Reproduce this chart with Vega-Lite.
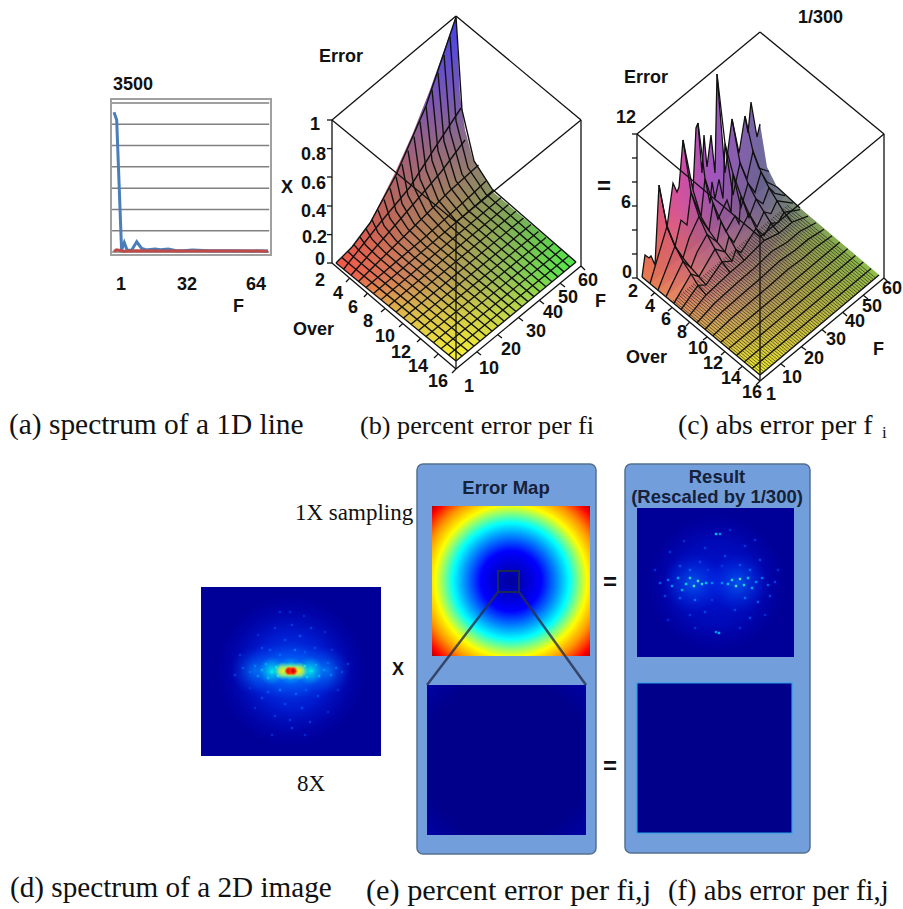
{"$schema":"https://vega.github.io/schema/vega-lite/v6.json","width":903,"height":909,"padding":0,"autosize":{"type":"fit","contains":"padding"},"background":"white","config":{"view":{"stroke":null}},
"datasets":{
"surfB":[{"x":336,"y":263,"y2":263},{"x":352,"y":247,"y2":276},{"x":370,"y":223,"y2":291},{"x":395,"y":173,"y2":311},{"x":413,"y":133,"y2":326},{"x":430,"y":90,"y2":340},{"x":456,"y":17,"y2":361},{"x":460,"y":97,"y2":358},{"x":465,"y":130,"y2":354},{"x":473,"y":160,"y2":347},{"x":493,"y":192,"y2":330.5},{"x":576,"y":262,"y2":262}],
"surfC":[{"x":642,"y":277,"y2":277},{"x":645,"y":255,"y2":279.5},{"x":649,"y":258,"y2":283},{"x":651,"y":256,"y2":284.5},{"x":655,"y":265,"y2":288},{"x":659,"y":185,"y2":291},{"x":667,"y":227,"y2":298},{"x":673,"y":183,"y2":303},{"x":677,"y":192,"y2":306},{"x":679,"y":187,"y2":308},{"x":683,"y":140,"y2":311},{"x":693,"y":190,"y2":319},{"x":696,"y":128,"y2":322},{"x":698,"y":123,"y2":323.5},{"x":702,"y":173,"y2":327},{"x":704,"y":135,"y2":328.5},{"x":707,"y":167,"y2":331},{"x":711,"y":135,"y2":334},{"x":715,"y":173,"y2":338},{"x":717,"y":74,"y2":339},{"x":725,"y":173,"y2":346},{"x":732,"y":119,"y2":352},{"x":739,"y":153,"y2":357.5},{"x":745,"y":116,"y2":362.5},{"x":748,"y":133,"y2":365},{"x":751,"y":102,"y2":367.5},{"x":757,"y":137,"y2":372.5},{"x":760,"y":124,"y2":375},{"x":767,"y":167,"y2":369},{"x":777,"y":187,"y2":361},{"x":800,"y":208,"y2":341},{"x":879,"y":275,"y2":275}],
"meshB":[
{"l":1,"x":462,"y":356},{"l":1,"x":378,"y":287.4},{"l":1,"x":360,"y":272.7},{"l":1,"x":348,"y":262.7},{"l":1,"x":342,"y":257.6},
{"l":2,"x":468,"y":351},{"l":2,"x":384,"y":282.4},{"l":2,"x":366,"y":267.5},{"l":2,"x":354,"y":257.3},{"l":2,"x":348,"y":251.5},
{"l":3,"x":474,"y":346},{"l":3,"x":390,"y":277.3},{"l":3,"x":372,"y":262.3},{"l":3,"x":360,"y":251.6},{"l":3,"x":354,"y":244.7},
{"l":4,"x":480,"y":341},{"l":4,"x":396,"y":272.2},{"l":4,"x":378,"y":257},{"l":4,"x":366,"y":245.5},{"l":4,"x":360,"y":237.1},
{"l":5,"x":486,"y":336},{"l":5,"x":402,"y":267.1},{"l":5,"x":384,"y":251.6},{"l":5,"x":372,"y":239.2},{"l":5,"x":366,"y":228.8},
{"l":6,"x":492,"y":331},{"l":6,"x":408,"y":262},{"l":6,"x":390,"y":246.1},{"l":6,"x":378,"y":232.6},{"l":6,"x":372,"y":219.8},
{"l":7,"x":498,"y":326},{"l":7,"x":414,"y":256.9},{"l":7,"x":396,"y":240.5},{"l":7,"x":384,"y":225.7},{"l":7,"x":378,"y":210},
{"l":8,"x":504,"y":321},{"l":8,"x":420,"y":251.7},{"l":8,"x":402,"y":234.9},{"l":8,"x":390,"y":218.5},{"l":8,"x":384,"y":199.5},
{"l":9,"x":510,"y":316},{"l":9,"x":426,"y":246.5},{"l":9,"x":408,"y":229.1},{"l":9,"x":396,"y":211},{"l":9,"x":390,"y":188.2},
{"l":10,"x":516,"y":311.5},{"l":10,"x":432,"y":241.8},{"l":10,"x":414,"y":223.8},{"l":10,"x":402,"y":203.7},{"l":10,"x":396,"y":176.7},
{"l":11,"x":522,"y":306.5},{"l":11,"x":438,"y":236.6},{"l":11,"x":420,"y":217.9},{"l":11,"x":408,"y":195.6},{"l":11,"x":402,"y":164},
{"l":12,"x":528,"y":301.6},{"l":12,"x":444,"y":231.4},{"l":12,"x":426,"y":212},{"l":12,"x":414,"y":187.3},{"l":12,"x":408,"y":150.7},
{"l":13,"x":534,"y":296.6},{"l":13,"x":450,"y":226.1},{"l":13,"x":432,"y":206},{"l":13,"x":420,"y":178.7},{"l":13,"x":414,"y":136.5},
{"l":14,"x":540,"y":291.7},{"l":14,"x":456,"y":220.9},{"l":14,"x":438,"y":199.8},{"l":14,"x":426,"y":169.8},{"l":14,"x":420,"y":121.7},
{"l":15,"x":546,"y":286.8},{"l":15,"x":462,"y":215.7},{"l":15,"x":444,"y":193.6},{"l":15,"x":432,"y":160.6},{"l":15,"x":426,"y":106.1},
{"l":16,"x":552,"y":281.8},{"l":16,"x":468,"y":210.4},{"l":16,"x":450,"y":187.2},{"l":16,"x":438,"y":150.9},{"l":16,"x":432,"y":89.7},
{"l":17,"x":558,"y":276.9},{"l":17,"x":474,"y":205.1},{"l":17,"x":456,"y":180.9},{"l":17,"x":444,"y":141.3},{"l":17,"x":438,"y":72.7},
{"l":18,"x":564,"y":271.9},{"l":18,"x":480,"y":199.7},{"l":18,"x":462,"y":174.3},{"l":18,"x":450,"y":131.2},{"l":18,"x":444,"y":54.9},
{"l":19,"x":570,"y":267},{"l":19,"x":486,"y":194.4},{"l":19,"x":468,"y":167.8},{"l":19,"x":456,"y":120.8},{"l":19,"x":450,"y":36.3},
{"l":20,"x":576,"y":262},{"l":20,"x":492,"y":189},{"l":20,"x":474,"y":161},{"l":20,"x":462,"y":110},{"l":20,"x":456,"y":17},
{"l":21,"x":366,"y":287.5},{"l":21,"x":426,"y":236.2},{"l":21,"x":456,"y":209},{"l":21,"x":474,"y":192.5},{"l":21,"x":486,"y":181.1},
{"l":22,"x":358.5,"y":281.4},{"l":22,"x":418.5,"y":222},{"l":22,"x":448.5,"y":192},{"l":22,"x":478.5,"y":165},
{"l":23,"x":351,"y":275.3},{"l":23,"x":397,"y":223},{"l":23,"x":441,"y":172},{"l":23,"x":465,"y":140},
{"l":24,"x":343.5,"y":269.2},{"l":24,"x":380,"y":223},{"l":24,"x":410,"y":187},{"l":24,"x":433.5,"y":150},{"l":24,"x":461,"y":108},
{"l":25,"x":336,"y":263},{"l":25,"x":352,"y":247},{"l":25,"x":370,"y":223},{"l":25,"x":396,"y":175},{"l":25,"x":426,"y":106},{"l":25,"x":456,"y":17}],
"ridgeC":[
{"l":1,"x":650,"y":283.5,"y2":283.5},{"l":1,"x":667,"y":226.3,"y2":269.2},{"l":1,"x":675,"y":246.5,"y2":262.5},{"l":1,"x":681,"y":220.1,"y2":257.5},{"l":1,"x":687,"y":224.9,"y2":252.4},{"l":1,"x":691,"y":192.4,"y2":249.1},{"l":1,"x":701,"y":216.5,"y2":240.7},{"l":1,"x":705,"y":178.4,"y2":237.3},{"l":1,"x":710,"y":203.4,"y2":233.1},{"l":1,"x":712,"y":181.9,"y2":231.4},{"l":1,"x":715,"y":198.6,"y2":228.9},{"l":1,"x":719,"y":179.3,"y2":225.5},{"l":1,"x":723,"y":198.5,"y2":222.2},{"l":1,"x":725,"y":143.5,"y2":220.5},{"l":1,"x":733,"y":195.1,"y2":213.8},{"l":1,"x":740,"y":162.8,"y2":207.9},{"l":1,"x":747,"y":178.9,"y2":202},{"l":1,"x":753,"y":151.3,"y2":197},{"l":1,"x":759,"y":168.2,"y2":191.9},{"l":1,"x":769,"y":171.5,"y2":183.5},
{"l":2,"x":658,"y":290,"y2":290},{"l":2,"x":675,"y":246.1,"y2":275.7},{"l":2,"x":683,"y":258,"y2":269},{"l":2,"x":689,"y":238.2,"y2":264},{"l":2,"x":699,"y":216.5,"y2":255.6},{"l":2,"x":709,"y":230.5,"y2":247.2},{"l":2,"x":713,"y":203.1,"y2":243.8},{"l":2,"x":718,"y":219.1,"y2":239.6},{"l":2,"x":727,"y":200.1,"y2":232},{"l":2,"x":731,"y":212.4,"y2":228.7},{"l":2,"x":733,"y":173.8,"y2":227},{"l":2,"x":741,"y":207.4,"y2":220.3},{"l":2,"x":748,"y":183.2,"y2":214.4},{"l":2,"x":755,"y":192.5,"y2":208.5},{"l":2,"x":761,"y":172,"y2":203.5},{"l":2,"x":767,"y":182.1,"y2":198.4},{"l":2,"x":777,"y":187,"y2":190},
{"l":3,"x":666,"y":296.6,"y2":296.6},{"l":3,"x":683,"y":261.3,"y2":282.3},{"l":3,"x":691,"y":267.8,"y2":275.6},{"l":3,"x":697,"y":252.2,"y2":270.6},{"l":3,"x":707,"y":234.4,"y2":262.2},{"l":3,"x":717,"y":241.9,"y2":253.8},{"l":3,"x":721,"y":221.5,"y2":250.4},{"l":3,"x":726,"y":231.6,"y2":246.2},{"l":3,"x":735,"y":215.9,"y2":238.6},{"l":3,"x":739,"y":223.7,"y2":235.3},{"l":3,"x":741,"y":195.8,"y2":233.6},{"l":3,"x":749,"y":217.7,"y2":226.9},{"l":3,"x":756,"y":198.9,"y2":221},{"l":3,"x":763,"y":203.8,"y2":215.1},{"l":3,"x":769,"y":187.7,"y2":210.1},{"l":3,"x":775,"y":193.4,"y2":205},{"l":3,"x":785,"y":195.6,"y2":196.6},
{"l":4,"x":674,"y":303.1,"y2":303.1},{"l":4,"x":691,"y":274,"y2":288.8},{"l":4,"x":699,"y":276.6,"y2":282.1},{"l":4,"x":715,"y":249.1,"y2":268.7},{"l":4,"x":725,"y":251.9,"y2":260.3},{"l":4,"x":729,"y":236.6,"y2":256.9},{"l":4,"x":734,"y":242.4,"y2":252.7},{"l":4,"x":749,"y":213.5,"y2":240.1},{"l":4,"x":757,"y":226.9,"y2":233.4},{"l":4,"x":764,"y":211.9,"y2":227.5},{"l":4,"x":771,"y":213.6,"y2":221.6},{"l":4,"x":777,"y":200.8,"y2":216.6},{"l":4,"x":793,"y":203.1,"y2":203.1},
{"l":5,"x":681,"y":309.7,"y2":309.7},{"l":5,"x":698,"y":285.3,"y2":295.4},{"l":5,"x":706,"y":284.9,"y2":288.7},{"l":5,"x":722,"y":261.9,"y2":275.3},{"l":5,"x":732,"y":261.2,"y2":266.9},{"l":5,"x":736,"y":249.6,"y2":263.5},{"l":5,"x":741,"y":252.3,"y2":259.3},{"l":5,"x":756,"y":228.5,"y2":246.7},{"l":5,"x":764,"y":235.6,"y2":240},{"l":5,"x":771,"y":223.4,"y2":234.1},{"l":5,"x":778,"y":222.7,"y2":228.2},{"l":5,"x":784,"y":212.4,"y2":223.2},{"l":5,"x":800,"y":209.7,"y2":209.7},
{"l":6,"x":689,"y":316.2,"y2":316.2},{"l":6,"x":706,"y":294.9,"y2":301.9},{"l":6,"x":730,"y":272.5,"y2":281.8},{"l":6,"x":744,"y":260.4,"y2":270},{"l":6,"x":764,"y":240.6,"y2":253.2},{"l":6,"x":779,"y":233.2,"y2":240.6},{"l":6,"x":792,"y":222.2,"y2":229.7},{"l":6,"x":808,"y":216.2,"y2":216.2},
{"l":7,"x":697,"y":322.7,"y2":322.7},{"l":7,"x":714,"y":303.7,"y2":308.4},{"l":7,"x":738,"y":282.1,"y2":288.3},{"l":7,"x":752,"y":270.1,"y2":276.5},{"l":7,"x":772,"y":251.3,"y2":259.7},{"l":7,"x":787,"y":242.2,"y2":247.1},{"l":7,"x":800,"y":231.2,"y2":236.2},{"l":7,"x":816,"y":222.7,"y2":222.7},
{"l":8,"x":705,"y":329.2,"y2":329.2},{"l":8,"x":722,"y":311.8,"y2":314.9},{"l":8,"x":746,"y":290.7,"y2":294.8},{"l":8,"x":760,"y":278.7,"y2":283},{"l":8,"x":780,"y":260.6,"y2":266.2},{"l":8,"x":795,"y":250.3,"y2":253.6},{"l":8,"x":808,"y":239.4,"y2":242.7},{"l":8,"x":824,"y":229.2,"y2":229.2},
{"l":9,"x":713,"y":335.8,"y2":335.8},{"l":9,"x":730,"y":319.5,"y2":321.5},{"l":9,"x":754,"y":298.8,"y2":301.4},{"l":9,"x":768,"y":286.9,"y2":289.6},{"l":9,"x":788,"y":269.3,"y2":272.8},{"l":9,"x":803,"y":258.2,"y2":260.2},{"l":9,"x":816,"y":247.3,"y2":249.3},{"l":9,"x":832,"y":235.8,"y2":235.8}],
"edgeC":[
{"l":0,"x":642,"y":277},{"l":0,"x":645,"y":255},{"l":0,"x":649,"y":258},{"l":0,"x":651,"y":256},{"l":0,"x":655,"y":265},{"l":0,"x":659,"y":185},{"l":0,"x":667,"y":227},{"l":0,"x":673,"y":183},{"l":0,"x":677,"y":192},{"l":0,"x":679,"y":187},{"l":0,"x":683,"y":140},{"l":0,"x":693,"y":190},{"l":0,"x":696,"y":128},{"l":0,"x":698,"y":123},{"l":0,"x":702,"y":173},{"l":0,"x":704,"y":135},{"l":0,"x":707,"y":167},{"l":0,"x":711,"y":135},{"l":0,"x":715,"y":173},{"l":0,"x":717,"y":74},{"l":0,"x":725,"y":173},{"l":0,"x":732,"y":119},{"l":0,"x":739,"y":153},{"l":0,"x":745,"y":116},{"l":0,"x":748,"y":133},{"l":0,"x":751,"y":102},{"l":0,"x":757,"y":137},{"l":0,"x":760,"y":124},
{"l":101,"x":659,"y":185},{"l":101,"x":667,"y":226.3},{"l":101,"x":675,"y":246.1},{"l":101,"x":683,"y":261.3},{"l":101,"x":691,"y":274},{"l":101,"x":698,"y":285.3},{"l":101,"x":706,"y":294.9},
{"l":102,"x":683,"y":140},{"l":102,"x":691,"y":192.4},{"l":102,"x":699,"y":216.5},{"l":102,"x":707,"y":234.4},{"l":102,"x":715,"y":249.1},{"l":102,"x":722,"y":261.9},{"l":102,"x":730,"y":272.5},
{"l":103,"x":698,"y":123},{"l":103,"x":705,"y":178.4},{"l":103,"x":713,"y":203.1},{"l":103,"x":721,"y":221.5},{"l":103,"x":729,"y":236.6},{"l":103,"x":736,"y":249.6},{"l":103,"x":744,"y":260.4},
{"l":104,"x":717,"y":74},{"l":104,"x":725,"y":143.5},{"l":104,"x":733,"y":173.8},{"l":104,"x":741,"y":195.8},{"l":104,"x":749,"y":213.5},{"l":104,"x":756,"y":228.5},{"l":104,"x":764,"y":240.6},
{"l":105,"x":732,"y":119},{"l":105,"x":740,"y":162.8},{"l":105,"x":748,"y":183.2},{"l":105,"x":756,"y":198.9},{"l":105,"x":764,"y":211.9},{"l":105,"x":771,"y":223.4},{"l":105,"x":779,"y":233.2},
{"l":106,"x":745,"y":116},{"l":106,"x":753,"y":151.3},{"l":106,"x":761,"y":172},{"l":106,"x":769,"y":187.7},{"l":106,"x":777,"y":200.8},{"l":106,"x":784,"y":212.4},{"l":106,"x":792,"y":222.2},
{"l":107,"x":667,"y":227},{"l":107,"x":675,"y":246.5},{"l":107,"x":683,"y":258},{"l":107,"x":691,"y":267.8},{"l":107,"x":699,"y":276.6},{"l":107,"x":706,"y":284.9},
{"l":108,"x":693,"y":190},{"l":108,"x":701,"y":216.5},{"l":108,"x":709,"y":230.5},{"l":108,"x":717,"y":241.9},{"l":108,"x":725,"y":251.9},{"l":108,"x":732,"y":261.2}],
"rules":[
{"x":448.5,"y":354.9,"x2":568.5,"y2":255.9},{"x":441,"y":348.8,"x2":561,"y2":249.8},{"x":433.5,"y":342.6,"x2":553.5,"y2":243.6},{"x":426,"y":336.5,"x2":546,"y2":237.5},{"x":418.5,"y":330.4,"x2":538.5,"y2":231.4},{"x":411,"y":324.3,"x2":531,"y2":224.6},{"x":403.5,"y":318.1,"x2":523.5,"y2":218},{"x":396,"y":312,"x2":516,"y2":211},{"x":388.5,"y":305.9,"x2":508.5,"y2":204.4},{"x":381,"y":299.8,"x2":501,"y2":197.8},{"x":373.5,"y":293.6,"x2":493.5,"y2":190},
{"x":336,"y":263,"x2":456,"y2":361},{"x":456,"y":361,"x2":576,"y2":262},
{"x":720.7,"y":342.3,"x2":839.7,"y2":242.3},{"x":728.6,"y":348.8,"x2":847.6,"y2":248.8},{"x":736.4,"y":355.4,"x2":855.4,"y2":255.4},{"x":744.3,"y":361.9,"x2":863.3,"y2":261.9},{"x":752.1,"y":368.4,"x2":871.1,"y2":268.4},{"x":642,"y":277,"x2":760,"y2":375},{"x":760,"y":375,"x2":879,"y2":275},{"x":777,"y":187,"x2":800,"y2":208},
{"x":456,"y":16,"x2":332,"y2":120},{"x":456,"y":16,"x2":581,"y2":120},{"x":332,"y":120,"x2":456,"y2":222},{"x":581,"y":120,"x2":456,"y2":222},{"x":456,"y":222,"x2":456,"y2":369},{"x":332,"y":120,"x2":332,"y2":263},{"x":581,"y":120,"x2":581,"y2":266},{"x":332,"y":263,"x2":456,"y2":369},{"x":581,"y":266,"x2":456,"y2":369},
{"x":760,"y":32,"x2":637,"y2":134},{"x":760,"y":32,"x2":884,"y2":134},{"x":637,"y":134,"x2":760,"y2":237},{"x":884,"y":134,"x2":760,"y2":237},{"x":760,"y":237,"x2":760,"y2":381},{"x":637,"y":134,"x2":637,"y2":278},{"x":884,"y":134,"x2":884,"y2":278},{"x":637,"y":278,"x2":760,"y2":381},{"x":884,"y":278,"x2":760,"y2":381},
{"x":332,"y":120,"x2":327,"y2":120},{"x":332,"y":148.6,"x2":327,"y2":148.6},{"x":332,"y":177,"x2":327,"y2":177},{"x":332,"y":206,"x2":327,"y2":206},{"x":332,"y":234.6,"x2":327,"y2":234.6},{"x":332,"y":263,"x2":327,"y2":263},
{"x":637,"y":134,"x2":632,"y2":134},{"x":637,"y":158,"x2":632,"y2":158},{"x":637,"y":182,"x2":632,"y2":182},{"x":637,"y":206,"x2":632,"y2":206},{"x":637,"y":230,"x2":632,"y2":230},{"x":637,"y":254,"x2":632,"y2":254},{"x":637,"y":278,"x2":632,"y2":278},
{"x":349.7,"y":278.1,"x2":346,"y2":282},{"x":367.4,"y":293.3,"x2":364,"y2":297},{"x":385.1,"y":308.4,"x2":381,"y2":312},{"x":402.9,"y":323.6,"x2":399,"y2":327},{"x":420.6,"y":338.7,"x2":417,"y2":342},{"x":438.3,"y":353.9,"x2":434,"y2":358},{"x":456,"y":369,"x2":452,"y2":373},
{"x":476.8,"y":351.8,"x2":481,"y2":355},{"x":497.7,"y":334.7,"x2":502,"y2":338},{"x":518.5,"y":317.5,"x2":523,"y2":321},{"x":539.3,"y":300.3,"x2":544,"y2":304},{"x":560.2,"y":283.2,"x2":565,"y2":287},{"x":581,"y":266,"x2":585,"y2":270},
{"x":654.6,"y":292.7,"x2":651,"y2":296},{"x":672.1,"y":307.4,"x2":668,"y2":311},{"x":689.7,"y":322.1,"x2":686,"y2":326},{"x":707.3,"y":336.9,"x2":703,"y2":340},{"x":724.9,"y":351.6,"x2":721,"y2":355},{"x":742.4,"y":366.3,"x2":738,"y2":370},{"x":760,"y":381,"x2":756,"y2":385},
{"x":780.7,"y":363.8,"x2":785,"y2":367},{"x":801.3,"y":346.7,"x2":806,"y2":350},{"x":822,"y":329.5,"x2":826,"y2":333},{"x":842.7,"y":312.3,"x2":847,"y2":316},{"x":863.3,"y":295.2,"x2":868,"y2":299},{"x":884,"y":278,"x2":888,"y2":282}],
"hatch":[{"x":762,"y":373.3,"x2":673,"y2":300.3},{"x":764,"y":371.7,"x2":675,"y2":298.7},{"x":766,"y":370,"x2":677,"y2":297},{"x":768,"y":368.3,"x2":679,"y2":295.3},{"x":770,"y":366.7,"x2":681,"y2":293.7},{"x":772,"y":365,"x2":683,"y2":292},{"x":774,"y":363.3,"x2":685,"y2":290.3},{"x":776,"y":361.7,"x2":687,"y2":288.7},{"x":778,"y":360,"x2":689,"y2":287},{"x":780,"y":358.3,"x2":691,"y2":285.3},{"x":782,"y":356.7,"x2":693,"y2":283.7},{"x":784,"y":355,"x2":695,"y2":282},{"x":786,"y":353.3,"x2":697,"y2":280.3},{"x":788,"y":351.7,"x2":699,"y2":278.7},{"x":790,"y":350,"x2":701,"y2":277},{"x":792,"y":348.3,"x2":703,"y2":275.3},{"x":794,"y":346.7,"x2":705,"y2":273.7},{"x":796,"y":345,"x2":707,"y2":272},{"x":798,"y":343.3,"x2":709,"y2":270.3},{"x":800,"y":341.7,"x2":711,"y2":268.7},{"x":802,"y":340,"x2":713,"y2":267},{"x":804,"y":338.3,"x2":715,"y2":265.3},{"x":806,"y":336.7,"x2":717,"y2":263.7},{"x":808,"y":335,"x2":719,"y2":262},{"x":810,"y":333.3,"x2":721,"y2":260.3},{"x":812,"y":331.7,"x2":723,"y2":258.7},{"x":814,"y":330,"x2":725,"y2":257},{"x":816,"y":328.3,"x2":727,"y2":255.3},{"x":818,"y":326.7,"x2":729,"y2":253.7},{"x":820,"y":325,"x2":731,"y2":252},{"x":822,"y":323.3,"x2":733,"y2":250.3},{"x":824,"y":321.7,"x2":735,"y2":248.7},{"x":826,"y":320,"x2":737,"y2":247},{"x":828,"y":318.3,"x2":739,"y2":245.3},{"x":830,"y":316.7,"x2":741,"y2":243.7},{"x":832,"y":315,"x2":743,"y2":242},{"x":834,"y":313.3,"x2":745,"y2":240.3},{"x":836,"y":311.7,"x2":747,"y2":238.7},{"x":838,"y":310,"x2":749,"y2":237},{"x":840,"y":308.3,"x2":751,"y2":235.3},{"x":842,"y":306.7,"x2":753,"y2":233.7},{"x":844,"y":305,"x2":755,"y2":232},{"x":846,"y":303.3,"x2":757,"y2":230.3},{"x":848,"y":301.7,"x2":759,"y2":228.7},{"x":850,"y":300,"x2":761,"y2":227},{"x":852,"y":298.3,"x2":763,"y2":225.3},{"x":854,"y":296.7,"x2":765,"y2":223.7},{"x":856,"y":295,"x2":767,"y2":222},{"x":858,"y":293.3,"x2":769,"y2":220.3},{"x":860,"y":291.7,"x2":771,"y2":218.7},{"x":862,"y":290,"x2":773,"y2":217},{"x":864,"y":288.3,"x2":775,"y2":215.3},{"x":866,"y":286.7,"x2":777,"y2":213.7},{"x":868,"y":285,"x2":779,"y2":212},{"x":870,"y":283.3,"x2":781,"y2":210.3},{"x":872,"y":281.7,"x2":783,"y2":208.7},{"x":874,"y":280,"x2":785,"y2":207},{"x":876,"y":278.3,"x2":787,"y2":205.3}],
"specks":[{"x":243,"y":668,"v":0.35},{"x":250,"y":672,"v":0.4},{"x":255,"y":666,"v":0.45},{"x":258,"y":676,"v":0.5},{"x":262,"y":670,"v":0.55},{"x":266,"y":664,"v":0.5},{"x":268,"y":678,"v":0.55},{"x":272,"y":672,"v":0.7},{"x":276,"y":667,"v":0.75},{"x":278,"y":676,"v":0.7},{"x":305,"y":666,"v":0.75},{"x":307,"y":677,"v":0.7},{"x":312,"y":671,"v":0.65},{"x":316,"y":665,"v":0.5},{"x":319,"y":676,"v":0.55},{"x":324,"y":670,"v":0.5},{"x":328,"y":663,"v":0.4},{"x":331,"y":675,"v":0.45},{"x":336,"y":668,"v":0.4},{"x":342,"y":672,"v":0.3},{"x":280,"y":655,"v":0.4},{"x":295,"y":650,"v":0.45},{"x":305,"y":652,"v":0.35},{"x":270,"y":650,"v":0.35},{"x":285,"y":640,"v":0.3},{"x":300,"y":636,"v":0.35},{"x":315,"y":648,"v":0.3},{"x":262,"y":648,"v":0.3},{"x":292,"y":625,"v":0.25},{"x":275,"y":628,"v":0.25},{"x":311,"y":628,"v":0.25},{"x":290,"y":612,"v":0.2},{"x":280,"y":690,"v":0.45},{"x":296,"y":694,"v":0.4},{"x":306,"y":690,"v":0.35},{"x":268,"y":692,"v":0.35},{"x":285,"y":704,"v":0.3},{"x":302,"y":708,"v":0.3},{"x":318,"y":696,"v":0.3},{"x":262,"y":698,"v":0.3},{"x":290,"y":720,"v":0.25},{"x":275,"y":716,"v":0.25},{"x":310,"y":722,"v":0.25},{"x":292,"y":728,"v":0.25},
{"x":240,"y":655,"v":0.22},{"x":250,"y":688,"v":0.22},{"x":235,"y":675,"v":0.25},{"x":348,"y":664,"v":0.25},{"x":338,"y":690,"v":0.22},{"x":332,"y":650,"v":0.22},{"x":258,"y":635,"v":0.2},{"x":325,"y":632,"v":0.2},{"x":255,"y":708,"v":0.2},{"x":328,"y":712,"v":0.2},{"x":280,"y":612,"v":0.2},{"x":304,"y":616,"v":0.2},{"x":272,"y":735,"v":0.2},{"x":305,"y":735,"v":0.2},
{"x":660,"y":583,"v":0.4},{"x":668,"y":580,"v":0.45},{"x":672,"y":586,"v":0.55},{"x":678,"y":578,"v":0.6},{"x":682,"y":590,"v":0.6},{"x":686,"y":584,"v":0.75},{"x":690,"y":578,"v":0.8},{"x":694,"y":586,"v":0.85},{"x":698,"y":581,"v":0.85},{"x":702,"y":584,"v":0.8},{"x":706,"y":583,"v":0.7},{"x":712,"y":583,"v":0.5},{"x":722,"y":583,"v":0.5},{"x":728,"y":584,"v":0.7},{"x":732,"y":580,"v":0.8},{"x":736,"y":586,"v":0.85},{"x":740,"y":579,"v":0.85},{"x":744,"y":585,"v":0.8},{"x":748,"y":578,"v":0.7},{"x":752,"y":588,"v":0.6},{"x":756,"y":582,"v":0.5},{"x":762,"y":578,"v":0.45},{"x":768,"y":585,"v":0.4},{"x":775,"y":582,"v":0.3},{"x":716,"y":534,"v":0.7},{"x":720,"y":534,"v":0.55},{"x":680,"y":566,"v":0.35},{"x":690,"y":570,"v":0.4},{"x":700,"y":562,"v":0.3},{"x":740,"y":565,"v":0.35},{"x":750,"y":570,"v":0.4},{"x":760,"y":560,"v":0.3},{"x":670,"y":552,"v":0.25},{"x":725,"y":556,"v":0.3},{"x":705,"y":548,"v":0.25},{"x":745,"y":546,"v":0.25},{"x":716,"y":632,"v":0.55},{"x":719,"y":633,"v":0.65},{"x":680,"y":598,"v":0.4},{"x":695,"y":600,"v":0.45},{"x":745,"y":598,"v":0.45},{"x":758,"y":602,"v":0.4},{"x":770,"y":596,"v":0.3},{"x":705,"y":612,"v":0.3},{"x":735,"y":610,"v":0.3},{"x":690,"y":615,"v":0.25},{"x":750,"y":618,"v":0.3},{"x":665,"y":596,"v":0.3},
{"x":684,"y":541,"v":0.22},{"x":730,"y":530,"v":0.22},{"x":755,"y":540,"v":0.22},{"x":695,"y":628,"v":0.22},{"x":740,"y":628,"v":0.22},{"x":765,"y":615,"v":0.22},{"x":668,"y":620,"v":0.2},{"x":655,"y":570,"v":0.22},{"x":778,"y":570,"v":0.22},{"x":712,"y":600,"v":0.25},{"x":722,"y":566,"v":0.25},{"x":708,"y":570,"v":0.25}],
"gridA":[{"v":0,"a":0.2,"b":64.5},{"v":500,"a":0.2,"b":64.5},{"v":1000,"a":0.2,"b":64.5},{"v":1500,"a":0.2,"b":64.5},{"v":2000,"a":0.2,"b":64.5},{"v":2500,"a":0.2,"b":64.5},{"v":3000,"a":0.2,"b":64.5},{"v":3500,"a":0.2,"b":64.5}],
"lineA":[{"s":"a","F":1,"v":3280},{"s":"a","F":2.1,"v":3100},{"s":"a","F":4.1,"v":50},{"s":"a","F":5.2,"v":220},{"s":"a","F":6.4,"v":40},{"s":"a","F":8.2,"v":40},{"s":"a","F":10.3,"v":240},{"s":"a","F":12.3,"v":85},{"s":"a","F":13.7,"v":60},{"s":"a","F":15,"v":50},{"s":"a","F":17.8,"v":70},{"s":"a","F":20,"v":55},{"s":"a","F":23.2,"v":70},{"s":"a","F":26,"v":35},{"s":"a","F":29.4,"v":30},{"s":"a","F":33,"v":45},{"s":"a","F":40,"v":30},{"s":"a","F":50,"v":28},{"s":"a","F":64,"v":25},{"s":"b","F":1,"v":10},{"s":"b","F":2,"v":50},{"s":"b","F":3,"v":40},{"s":"b","F":5,"v":20},{"s":"b","F":10,"v":30},{"s":"b","F":20,"v":25},{"s":"b","F":64,"v":20}],
"bold":[{"t":"3500","x":113,"y":90},{"t":"1","x":116,"y":290},{"t":"32","x":177,"y":290},{"t":"64","x":246,"y":290},{"t":"F","x":233,"y":312},
{"t":"Error","x":319,"y":62},{"t":"1","x":310,"y":130},{"t":"0.8","x":301,"y":160},{"t":"0.6","x":301,"y":189},{"t":"0.4","x":301,"y":217},{"t":"0.2","x":302,"y":243},{"t":"0","x":315,"y":265},{"t":"X","x":281,"y":193},{"t":"2","x":315,"y":286},{"t":"4","x":333,"y":299},{"t":"6","x":348,"y":313},{"t":"8","x":363,"y":327},{"t":"10","x":375,"y":342},{"t":"12","x":391,"y":358},{"t":"14","x":408,"y":372},{"t":"16","x":428,"y":387},{"t":"Over","x":293,"y":335},{"t":"1","x":464,"y":392},{"t":"10","x":479,"y":374},{"t":"20","x":501,"y":355},{"t":"30","x":526,"y":337},{"t":"40","x":543,"y":318},{"t":"50","x":558,"y":303},{"t":"60","x":578,"y":286},{"t":"F","x":595,"y":307},
{"t":"1/300","x":798,"y":23},{"t":"Error","x":624,"y":83},{"t":"12","x":616,"y":123},{"t":"6","x":621,"y":208},{"t":"0","x":622,"y":278},{"t":"2","x":628,"y":297},{"t":"4","x":645,"y":312},{"t":"6","x":661,"y":325},{"t":"8","x":677,"y":338},{"t":"10","x":688,"y":354},{"t":"12","x":703,"y":369},{"t":"14","x":721,"y":384},{"t":"16","x":742,"y":398},{"t":"Over","x":626,"y":363},{"t":"1","x":766,"y":400},{"t":"10","x":782,"y":383},{"t":"20","x":804,"y":364},{"t":"30","x":826,"y":345},{"t":"40","x":845,"y":327},{"t":"50","x":862,"y":312},{"t":"60","x":882,"y":294},{"t":"F","x":873,"y":355},{"t":"X","x":392,"y":675}],
"eq":[{"t":"=","x":597,"y":194},{"t":"=","x":603,"y":590},{"t":"=","x":603,"y":774}],
"title":[{"t":"Error Map","x":506,"y":494},{"t":"Result","x":717,"y":483},{"t":"(Rescaled by 1/300)","x":717,"y":503}],
"note":[{"t":"1X sampling","x":295,"y":520},{"t":"8X","x":297,"y":791}],
"sub":[{"t":"i","x":882,"y":438}]
},
"layer":[
{"encoding":{"x":{"field":"x","type":"quantitative","axis":null,"scale":{"domain":[0,903],"nice":false,"zero":false}},"y":{"field":"y","type":"quantitative","axis":null,"scale":{"domain":[909,0],"nice":false,"zero":false}}},
"layer":[
{"data":{"values":[{"x":111,"x2":271,"y":99,"y2":255}]},"mark":{"type":"rect","fill":"white","stroke":"#a0a0a0","strokeWidth":2},"encoding":{"x2":{"field":"x2"},"y2":{"field":"y2"}}},
{"data":{"name":"surfB"},"mark":{"type":"area","orient":"vertical","fill":{"gradient":"linear","x1":0,"y1":0,"x2":1,"y2":0,"stops":[{"offset":0,"color":"#fa4a4a"},{"offset":0.3,"color":"#c87a60"},{"offset":0.5,"color":"#b09a58"},{"offset":0.75,"color":"#80c458"},{"offset":1,"color":"#44f04c"}]}},"encoding":{"y2":{"field":"y2"}}},
{"data":{"name":"surfB"},"mark":{"type":"area","orient":"vertical","fill":{"gradient":"linear","x1":0,"y1":0,"x2":0,"y2":1,"stops":[{"offset":0,"color":"rgba(60,60,250,0.95)"},{"offset":0.25,"color":"rgba(105,70,205,0.75)"},{"offset":0.45,"color":"rgba(120,70,140,0.4)"},{"offset":0.62,"color":"rgba(100,90,70,0.15)"},{"offset":0.75,"color":"rgba(220,210,60,0.1)"},{"offset":0.85,"color":"rgba(235,230,60,0.55)"},{"offset":1,"color":"rgba(250,245,50,1)"}]}},"encoding":{"y2":{"field":"y2"}}},
{"data":{"name":"surfC"},"mark":{"type":"area","orient":"vertical","fill":{"gradient":"linear","x1":0,"y1":0,"x2":1,"y2":0,"stops":[{"offset":0,"color":"#f5505a"},{"offset":0.15,"color":"#e85095"},{"offset":0.3,"color":"#a858b8"},{"offset":0.5,"color":"#707090"},{"offset":0.7,"color":"#70a858"},{"offset":1,"color":"#4ae04c"}]}},"encoding":{"y2":{"field":"y2"}}},
{"data":{"name":"surfC"},"mark":{"type":"area","orient":"vertical","fill":{"gradient":"linear","x1":0,"y1":0,"x2":0,"y2":1,"stops":[{"offset":0,"color":"rgba(120,70,220,0.3)"},{"offset":0.35,"color":"rgba(120,70,220,0.15)"},{"offset":0.55,"color":"rgba(205,140,70,0.35)"},{"offset":0.75,"color":"rgba(225,175,60,0.6)"},{"offset":1,"color":"rgba(240,240,40,1)"}]}},"encoding":{"y2":{"field":"y2"}}},
{"data":{"name":"ridgeC"},"mark":{"type":"area","orient":"vertical","opacity":0.14,"fill":{"gradient":"linear","x1":0,"y1":0,"x2":1,"y2":0,"stops":[{"offset":0,"color":"#c03a50"},{"offset":0.6,"color":"#703a78"},{"offset":1,"color":"#3a4a60"}]}},"encoding":{"y2":{"field":"y2"},"detail":{"field":"l"}}},
{"data":{"name":"hatch"},"mark":{"type":"rule","stroke":"#1a1a1a","strokeWidth":0.8,"opacity":0.75},"encoding":{"x2":{"field":"x2"},"y2":{"field":"y2"}}},
{"data":{"name":"ridgeC"},"mark":{"type":"line","stroke":"#111","strokeWidth":1.3},"encoding":{"detail":{"field":"l"}}},
{"data":{"name":"edgeC"},"mark":{"type":"line","stroke":"#111","strokeWidth":1.3},"encoding":{"detail":{"field":"l"}}},
{"data":{"name":"meshB"},"mark":{"type":"line","stroke":"#111","strokeWidth":1.4},"encoding":{"detail":{"field":"l"}}},
{"data":{"name":"rules"},"mark":{"type":"rule","stroke":"#111","strokeWidth":1.3},"encoding":{"x2":{"field":"x2"},"y2":{"field":"y2"}}},
{"data":{"values":[{"x":417,"x2":596,"y":464,"y2":854},{"x":625,"x2":810,"y":464,"y2":853}]},"mark":{"type":"rect","fill":"#729fdc","stroke":"#55708f","strokeWidth":1.5,"cornerRadius":6},"encoding":{"x2":{"field":"x2"},"y2":{"field":"y2"}}},
{"data":{"values":[{"x":432,"x2":590,"y":506,"y2":656}]},"mark":{"type":"rect","fill":{"gradient":"radial","x1":0.5,"y1":0.5,"r1":0,"x2":0.5,"y2":0.5,"r2":0.707,"stops":[{"offset":0,"color":"#00009a"},{"offset":0.27,"color":"#0000ff"},{"offset":0.43,"color":"#00a0ff"},{"offset":0.52,"color":"#00ffff"},{"offset":0.62,"color":"#a0ff60"},{"offset":0.68,"color":"#ffff00"},{"offset":0.8,"color":"#ff9000"},{"offset":0.92,"color":"#ff0000"},{"offset":1,"color":"#900000"}]}},"encoding":{"x2":{"field":"x2"},"y2":{"field":"y2"}}},
{"data":{"values":[{"x":498,"x2":519,"y":571,"y2":592}]},"mark":{"type":"rect","fill":"transparent","stroke":"#1a2a50","strokeWidth":2},"encoding":{"x2":{"field":"x2"},"y2":{"field":"y2"}}},
{"data":{"values":[{"x":427,"x2":586,"y":685,"y2":835}]},"mark":{"type":"rect","fill":{"gradient":"radial","x1":0.5,"y1":0.5,"r1":0,"x2":0.5,"y2":0.5,"r2":0.707,"stops":[{"offset":0,"color":"#00008b"},{"offset":0.72,"color":"#00008b"},{"offset":1,"color":"#0000a8"}]}},"encoding":{"x2":{"field":"x2"},"y2":{"field":"y2"}}},
{"data":{"values":[{"x":637,"x2":792,"y":683,"y2":833}]},"mark":{"type":"rect","fill":"#00008b","stroke":"#2a9fe8","strokeWidth":1.2},"encoding":{"x2":{"field":"x2"},"y2":{"field":"y2"}}},
{"data":{"values":[{"x":498,"y":592,"x2":427,"y2":685},{"x":519,"y":592,"x2":586,"y2":685}]},"mark":{"type":"rule","stroke":"#26304e","strokeWidth":2.5,"opacity":0.8},"encoding":{"x2":{"field":"x2"},"y2":{"field":"y2"}}},
{"data":{"values":[{"x":201,"x2":381,"y":587,"y2":756},{"x":637,"x2":794,"y":508,"y2":657}]},"mark":{"type":"rect","fill":"#000098"},"encoding":{"x2":{"field":"x2"},"y2":{"field":"y2"}}},
{"data":{"values":[{"x":215,"x2":367,"y":595,"y2":747}]},"mark":{"type":"rect","fill":{"gradient":"radial","x1":0.5,"y1":0.5,"r1":0,"x2":0.5,"y2":0.5,"r2":0.5,"stops":[{"offset":0,"color":"rgba(0,90,255,0.95)"},{"offset":0.5,"color":"rgba(0,40,235,0.65)"},{"offset":1,"color":"rgba(0,0,200,0)"}]}},"encoding":{"x2":{"field":"x2"},"y2":{"field":"y2"}}},
{"data":{"values":[{"x":646,"x2":786,"y":513,"y2":653}]},"mark":{"type":"rect","fill":{"gradient":"radial","x1":0.5,"y1":0.5,"r1":0,"x2":0.5,"y2":0.5,"r2":0.5,"stops":[{"offset":0,"color":"rgba(0,30,235,0.7)"},{"offset":0.6,"color":"rgba(0,20,220,0.45)"},{"offset":1,"color":"rgba(0,0,200,0)"}]}},"encoding":{"x2":{"field":"x2"},"y2":{"field":"y2"}}},
{"data":{"values":[{"x":663,"x2":723,"y":553,"y2":613},{"x":708,"x2":768,"y":553,"y2":613}]},"mark":{"type":"rect","fill":{"gradient":"radial","x1":0.5,"y1":0.5,"r1":0,"x2":0.5,"y2":0.5,"r2":0.5,"stops":[{"offset":0,"color":"rgba(0,120,255,0.65)"},{"offset":1,"color":"rgba(0,60,255,0)"}]}},"encoding":{"x2":{"field":"x2"},"y2":{"field":"y2"}}},
{"data":{"values":[{"x":231,"x2":279,"y":647,"y2":695},{"x":245,"x2":301,"y":643,"y2":699},{"x":261,"x2":321,"y":641,"y2":701},{"x":281,"x2":337,"y":643,"y2":699},{"x":303,"x2":351,"y":647,"y2":695}]},"mark":{"type":"rect","fill":{"gradient":"radial","x1":0.5,"y1":0.5,"r1":0,"x2":0.5,"y2":0.5,"r2":0.5,"stops":[{"offset":0,"color":"rgba(0,170,255,0.55)"},{"offset":1,"color":"rgba(0,80,255,0)"}]}},"encoding":{"x2":{"field":"x2"},"y2":{"field":"y2"}}},
{"data":{"name":"specks"},"mark":{"type":"square","size":6,"opacity":0.8,"strokeWidth":0},"encoding":{"color":{"field":"v","type":"quantitative","legend":null,"scale":{"domain":[0.2,0.85],"range":["#0030e0","#0070ff","#00d0ff","#70ffb0"]}}}},
{"data":{"values":[{"x":258,"x2":286,"y":657,"y2":685},{"x":277,"x2":305,"y":657,"y2":685},{"x":296,"x2":324,"y":657,"y2":685}]},"mark":{"type":"rect","fill":{"gradient":"radial","x1":0.5,"y1":0.5,"r1":0,"x2":0.5,"y2":0.5,"r2":0.5,"stops":[{"offset":0,"color":"rgba(0,255,220,0.8)"},{"offset":1,"color":"rgba(0,200,255,0)"}]}},"encoding":{"x2":{"field":"x2"},"y2":{"field":"y2"}}},
{"data":{"values":[{"x":274,"x2":292,"y":662,"y2":680},{"x":282,"x2":300,"y":662,"y2":680},{"x":290,"x2":308,"y":662,"y2":680}]},"mark":{"type":"rect","fill":{"gradient":"radial","x1":0.5,"y1":0.5,"r1":0,"x2":0.5,"y2":0.5,"r2":0.5,"stops":[{"offset":0,"color":"rgba(255,240,0,1)"},{"offset":0.5,"color":"rgba(200,255,80,0.7)"},{"offset":1,"color":"rgba(100,255,180,0)"}]}},"encoding":{"x2":{"field":"x2"},"y2":{"field":"y2"}}},
{"data":{"values":[{"x":284,"x2":294,"y":666,"y2":676},{"x":288,"x2":298,"y":666,"y2":676}]},"mark":{"type":"rect","fill":{"gradient":"radial","x1":0.5,"y1":0.5,"r1":0,"x2":0.5,"y2":0.5,"r2":0.5,"stops":[{"offset":0,"color":"#c00000"},{"offset":0.5,"color":"#ff2000"},{"offset":1,"color":"rgba(255,120,0,0)"}]}},"encoding":{"x2":{"field":"x2"},"y2":{"field":"y2"}}},
{"data":{"name":"bold"},"mark":{"type":"text","font":"Liberation Sans","fontWeight":"bold","fontSize":18,"align":"left","baseline":"alphabetic","fill":"#111"},"encoding":{"text":{"field":"t"}}},
{"data":{"name":"eq"},"mark":{"type":"text","font":"Liberation Sans","fontWeight":"bold","fontSize":24,"align":"left","baseline":"alphabetic","fill":"#111"},"encoding":{"text":{"field":"t"}}},
{"data":{"name":"title"},"mark":{"type":"text","font":"Liberation Sans","fontWeight":"bold","fontSize":18.5,"align":"center","baseline":"alphabetic","fill":"#16213a"},"encoding":{"text":{"field":"t"}}},
{"data":{"values":[{"t":"(a) spectrum of a 1D line","x":9,"y":434}]},"mark":{"type":"text","font":"Liberation Serif","fontSize":29.4,"align":"left","baseline":"alphabetic","fill":"#111"},"encoding":{"text":{"field":"t"}}},
{"data":{"values":[{"t":"(b) percent error per fi","x":360,"y":434}]},"mark":{"type":"text","font":"Liberation Serif","fontSize":26.2,"align":"left","baseline":"alphabetic","fill":"#111"},"encoding":{"text":{"field":"t"}}},
{"data":{"values":[{"t":"(c) abs error per f","x":678,"y":434}]},"mark":{"type":"text","font":"Liberation Serif","fontSize":27.8,"align":"left","baseline":"alphabetic","fill":"#111"},"encoding":{"text":{"field":"t"}}},
{"data":{"values":[{"t":"(d) spectrum of a 2D image","x":10,"y":897}]},"mark":{"type":"text","font":"Liberation Serif","fontSize":29.2,"align":"left","baseline":"alphabetic","fill":"#111"},"encoding":{"text":{"field":"t"}}},
{"data":{"values":[{"t":"(e) percent error per fi,j","x":366,"y":900}]},"mark":{"type":"text","font":"Liberation Serif","fontSize":30.3,"align":"left","baseline":"alphabetic","fill":"#111"},"encoding":{"text":{"field":"t"}}},
{"data":{"values":[{"t":"(f) abs error per fi,j","x":668,"y":900}]},"mark":{"type":"text","font":"Liberation Serif","fontSize":28.7,"align":"left","baseline":"alphabetic","fill":"#111"},"encoding":{"text":{"field":"t"}}},
{"data":{"name":"note"},"mark":{"type":"text","font":"Liberation Serif","fontSize":23,"align":"left","baseline":"alphabetic","fill":"#111"},"encoding":{"text":{"field":"t"}}},
{"data":{"name":"sub"},"mark":{"type":"text","font":"Liberation Serif","fontSize":17,"align":"left","baseline":"alphabetic","fill":"#111"},"encoding":{"text":{"field":"t"}}}
]},
{"layer":[
{"data":{"name":"gridA"},"mark":{"type":"rule","stroke":"#808080","strokeWidth":1.5},"encoding":{"x":{"field":"a","type":"quantitative","axis":null,"scale":{"domain":[-45.64,323.8],"nice":false,"zero":false}},"x2":{"field":"b"},"y":{"field":"v","type":"quantitative","axis":null,"scale":{"domain":[-15433,5919],"nice":false,"zero":false}}}},
{"data":{"name":"lineA"},"mark":{"type":"line","strokeWidth":3},"encoding":{"x":{"field":"F","type":"quantitative","axis":null,"scale":{"domain":[-45.64,323.8],"nice":false,"zero":false}},"y":{"field":"v","type":"quantitative","axis":null,"scale":{"domain":[-15433,5919],"nice":false,"zero":false}},"color":{"field":"s","type":"nominal","legend":null,"scale":{"domain":["a","b"],"range":["#4a7ebb","#be4b48"]}}}}
]}
],
"resolve":{"scale":{"x":"independent","y":"independent"}}
}
